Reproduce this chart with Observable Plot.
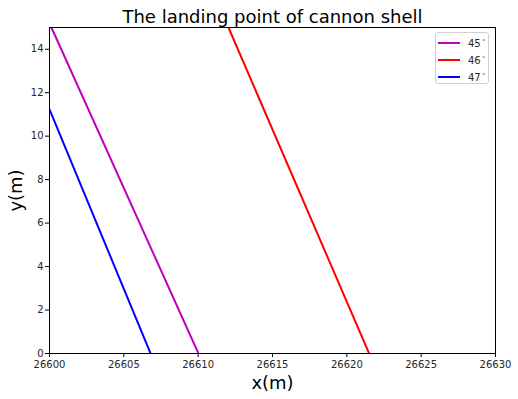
<!DOCTYPE html>
<html>
<head>
<meta charset="utf-8">
<script src="https://cdn.jsdelivr.net/npm/d3@7"></script>
<script src="https://cdn.jsdelivr.net/npm/@observablehq/plot@0.6"></script>
<style>
  html, body { margin: 0; padding: 0; background: #fff; }
  #wrap { position: relative; width: 518px; height: 399px; font-family: "DejaVu Sans", sans-serif; }
  #legend { position: absolute; left: 435px; top: 32px; width: 54px; height: 52px; border: 1px solid #d0d0d0; border-radius: 3px; background: rgba(255,255,255,0.8); box-sizing: border-box; }
  .row { position: absolute; left: 0; height: 17px; font-size: 10px; color: #262626; }
  .row .sw { position: absolute; left: 2px; top: 8px; width: 22px; height: 2px; }
  .row .lb { position: absolute; left: 32px; top: 2px; white-space: nowrap; }
  .row sup { font-size: 6px; vertical-align: 5px; margin-left: 1px; }
</style>
</head>
<body>
<div id="wrap"></div>
<script>
const series = ["45", "46", "47"];
const colors = ["#bf00bf", "#ff0000", "#0000ff"];
const xs = [
  [26600.13, 26610.02],
  [26612.04, 26621.50],
  [26600.0, 26606.80]
];
const ys = [
  [15, 0],
  [15, 0],
  [11.23, 0]
];
const xTicks = [26600, 26605, 26610, 26615, 26620, 26625, 26630];
const yTicks = [0, 2, 4, 6, 8, 10, 12, 14];
const title = "The landing point of cannon shell";
const xLabel = "x(m)";
const yLabel = "y(m)";

const data = series.flatMap((s, i) => xs[i].map((x, j) => ({s, x, y: ys[i][j]})));
const fmt = d => String(d);

const chart = Plot.plot({
  width: 518,
  height: 399,
  marginTop: 27,
  marginLeft: 49,
  marginRight: 23,
  marginBottom: 46,
  style: {fontFamily: "DejaVu Sans", fontSize: "10px", color: "#262626", background: "#fff"},
  x: {domain: [26600, 26630]},
  y: {domain: [0, 15]},
  marks: [
    Plot.line(data, {x: "x", y: "y", z: "s", stroke: d => colors[series.indexOf(d.s)], strokeWidth: 2, clip: true}),
    Plot.frame({stroke: "#000", strokeWidth: 1}),
    Plot.axisX({ticks: xTicks, tickFormat: fmt, tickSize: 4, tickPadding: 3, label: null, stroke: "#000", fill: "#262626", fontSize: 10}),
    Plot.axisY({ticks: yTicks, tickFormat: fmt, tickSize: 4, tickPadding: 2, label: null, stroke: "#000", fill: "#262626", fontSize: 10}),
    Plot.text([title], {frameAnchor: "top", dy: -17, fontSize: 18, fill: "#000", text: d => d}),
    Plot.text([xLabel], {frameAnchor: "bottom", dy: 35, fontSize: 18, fill: "#000", text: d => d}),
    Plot.text([yLabel], {frameAnchor: "left", dx: -33, rotate: -90, textAnchor: "middle", fontSize: 18, fill: "#000", text: d => d})
  ]
});

const wrap = document.getElementById("wrap");
wrap.appendChild(chart);
const leg = document.createElement("div");
leg.id = "legend";
series.forEach((s, i) => {
  const r = document.createElement("div");
  r.className = "row";
  r.style.top = (1 + i * 17) + "px";
  r.innerHTML = `<div class="sw" style="background:${colors[i]}"></div><div class="lb">${s}<sup>∘</sup></div>`;
  leg.appendChild(r);
});
wrap.appendChild(leg);
</script>
</body>
</html>
